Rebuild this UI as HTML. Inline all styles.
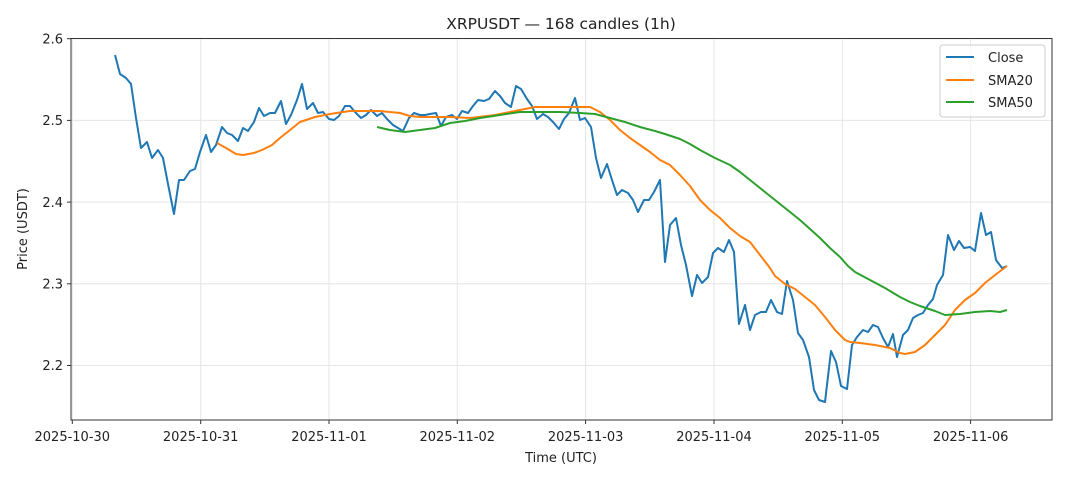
<!DOCTYPE html>
<html><head><meta charset="utf-8"><style>body{margin:0;background:#fff}svg{display:block}text{font-family:"DejaVu Sans","Liberation Sans",sans-serif;fill:#222}</style></head><body>
<svg width="1068" height="481" viewBox="0 0 1068 481">
<rect width="1068" height="481" fill="#fff"/>
<g stroke="#e6e6e6" stroke-width="1">
<line x1="72.3" y1="38" x2="72.3" y2="420"/><line x1="200.7" y1="38" x2="200.7" y2="420"/><line x1="329" y1="38" x2="329" y2="420"/><line x1="457.3" y1="38" x2="457.3" y2="420"/><line x1="585.6" y1="38" x2="585.6" y2="420"/><line x1="714" y1="38" x2="714" y2="420"/><line x1="842.3" y1="38" x2="842.3" y2="420"/><line x1="970.6" y1="38" x2="970.6" y2="420"/>
<line x1="71" y1="38.7" x2="1052" y2="38.7"/><line x1="71" y1="120.4" x2="1052" y2="120.4"/><line x1="71" y1="202.1" x2="1052" y2="202.1"/><line x1="71" y1="283.8" x2="1052" y2="283.8"/><line x1="71" y1="365.5" x2="1052" y2="365.5"/>
</g>
<g fill="none" stroke-width="2" stroke-linejoin="round">
<polyline stroke="#1f77b4" points="115,55 120,74 126,78 131,84 136,118 141,148 147,142 152,158 158,150 163,158 168,184 174,214 179,180 184,180 190,171 195,169 200,152 206,135 211,152 216,145 222,127 227,133 232,135 238,141 243,128 248,131 254,122 259,108 264,116 270,113 275,113 281,101 286,124 291,115 297,100 302,84 307,109 313,103 318,113 323,112 329,119 334,120 339,116 345,106 350,106 355,112 361,118 366,115 371,110 377,116 382,113 387,119 393,125 398,128 403,131 409,118 414,113 420,115 425,115 430,114 436,113 441,126 446,117 452,115 457,119 462,111 468,113 473,106 478,100 484,101 489,99 495,91 500,96 505,103 511,107 516,86 521,89 527,99 532,106 537,119 543,114 548,117 553,122 559,129 564,119 569,113 575,98 580,120 585,118 591,127 596,158 601,178 607,164 612,180 617,195 622,190 628,193 633,200 638,212 644,200 649,200 654,192 660,180 665,262 670,225 676,218 681,245 686,265 692,296 697,275 702,283 708,277 713,253 718,248 724,252 729,240 734,252 739,324 745,305 750,330 755,315 761,312 766,312 771,300 777,312 782,314 787,281 793,300 798,333 803,340 809,357 814,390 819,400 825,402 831,351 836,362 841,386 847,389 852,345 857,337 863,330 868,332 873,325 878,327 883,338 888,347 893,334 897,357 903,335 908,330 913,318 918,315 923,313 928,305 933,299 937,285 943,275 948,235 954,250 959,241 964,248 970,247 975,251 981,213 986,235 991,232 996,260 1002,268 1007,266"/>
<polyline stroke="#ff7f0e" points="217,143 226,148 236,154 243,155 254,153 262,150 272,145 280,138 290,130 300,122 315,117 330,114 350,111 380,111 400,113 410,116 420,117 450,117 470,118 495,115 520,110 535,107 560,107 590,107 600,112 610,120 620,130 630,138 640,145 650,152 660,160 670,165 680,175 690,186 700,200 710,210 720,218 730,228 740,236 750,242 760,255 770,268 775,276 785,284 795,289 805,297 815,305 825,317 835,330 845,340 850,342 860,343 875,345 890,348 900,353 905,354 915,352 925,345 935,335 945,325 955,310 965,300 975,293 985,283 995,275 1007,266"/>
<polyline stroke="#2ca02c" points="377,127 390,130 405,132 420,130 435,128 450,123 465,121 480,118 500,115 520,112 540,112 560,112 580,113 595,114 610,118 625,122 640,127 655,131 665,134 680,139 690,144 700,150 715,158 730,165 740,172 750,180 760,188 770,196 780,204 790,212 800,220 810,229 820,238 830,248 840,257 848,266 855,272 870,280 885,288 900,297 910,302 920,306 935,311 945,315 960,314 975,312 990,311 1000,312 1007,310"/>
</g>
<rect x="71" y="38.5" width="981" height="381.5" fill="none" stroke="#333" stroke-width="1"/>
<g stroke="#333"><line x1="67" y1="38.7" x2="71" y2="38.7"/><line x1="67" y1="120.4" x2="71" y2="120.4"/><line x1="67" y1="202.1" x2="71" y2="202.1"/><line x1="67" y1="283.8" x2="71" y2="283.8"/><line x1="67" y1="365.5" x2="71" y2="365.5"/>
<line x1="72.3" y1="420" x2="72.3" y2="424"/><line x1="200.7" y1="420" x2="200.7" y2="424"/><line x1="329" y1="420" x2="329" y2="424"/><line x1="457.3" y1="420" x2="457.3" y2="424"/><line x1="585.6" y1="420" x2="585.6" y2="424"/><line x1="714" y1="420" x2="714" y2="424"/><line x1="842.3" y1="420" x2="842.3" y2="424"/><line x1="970.6" y1="420" x2="970.6" y2="424"/></g>
<g font-size="13" text-anchor="end"><text x="63" y="43.5">2.6</text><text x="63" y="125">2.5</text><text x="63" y="207">2.4</text><text x="63" y="288.5">2.3</text><text x="63" y="370">2.2</text></g>
<g font-size="13" text-anchor="middle"><text x="72.3" y="441">2025-10-30</text><text x="200.7" y="441">2025-10-31</text><text x="329" y="441">2025-11-01</text><text x="457.3" y="441">2025-11-02</text><text x="585.6" y="441">2025-11-03</text><text x="714" y="441">2025-11-04</text><text x="842.3" y="441">2025-11-05</text><text x="970.6" y="441">2025-11-06</text>
<text x="561" y="462">Time (UTC)</text><text x="561" y="29" font-size="15.5">XRPUSDT — 168 candles (1h)</text>
<text transform="translate(27,229) rotate(-90)">Price (USDT)</text></g>
<rect x="940" y="45" width="105" height="72" rx="3" fill="#fff" fill-opacity="0.8" stroke="#ccc"/>
<g stroke-width="2"><line x1="946" y1="57" x2="974" y2="57" stroke="#1f77b4"/><line x1="946" y1="80" x2="974" y2="80" stroke="#ff7f0e"/><line x1="946" y1="102" x2="974" y2="102" stroke="#2ca02c"/></g>
<g font-size="13"><text x="988" y="62">Close</text><text x="988" y="85">SMA20</text><text x="988" y="107">SMA50</text></g>
</svg>
</body></html>
